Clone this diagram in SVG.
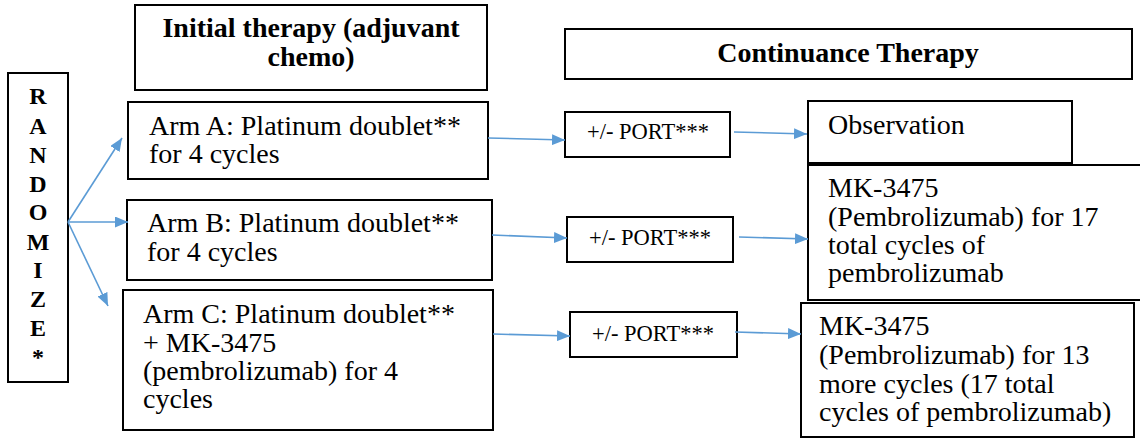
<svg xmlns="http://www.w3.org/2000/svg" width="1140" height="439" viewBox="0 0 1140 439">
<style>
.box{fill:#fff;stroke:#000;stroke-width:2}
.t{font-family:"Liberation Serif","Times New Roman",serif;font-size:28px;fill:#000}
.h{font-family:"Liberation Serif","Times New Roman",serif;font-size:28px;font-weight:bold;fill:#000;text-anchor:middle}
.r{font-family:"Liberation Serif","Times New Roman",serif;font-size:24px;font-weight:bold;fill:#000;text-anchor:middle}
.p{font-family:"Liberation Serif","Times New Roman",serif;font-size:22.5px;fill:#000;text-anchor:middle}
.c{fill:none;stroke:#5b9bd5;stroke-width:1.6;marker-end:url(#ah)}
</style>
<defs>
<marker id="ah" markerUnits="userSpaceOnUse" markerWidth="13" markerHeight="11" refX="13" refY="5.5" orient="auto">
<path d="M0,0 L13,5.5 L0,11 z" fill="#5b9bd5"/>
</marker>
</defs>
<rect width="1140" height="439" fill="#fff"/>
<g id="randomize">
<rect class="box" x="8" y="73" width="60" height="309"/>
<text class="r" x="38" y="104">R</text>
<text class="r" x="38" y="134">A</text>
<text class="r" x="38" y="163">N</text>
<text class="r" x="38" y="192">D</text>
<text class="r" x="38" y="220">O</text>
<text class="r" x="38" y="250">M</text>
<text class="r" x="38" y="278">I</text>
<text class="r" x="38" y="307">Z</text>
<text class="r" x="38" y="336">E</text>
<text class="r" x="38" y="365">*</text>
</g>
<g id="initial-header">
<rect class="box" x="135" y="5" width="352" height="85"/>
<text class="h" x="311" y="37">Initial therapy (adjuvant</text>
<text class="h" x="311" y="66">chemo)</text>
</g>
<g id="continuance-header">
<rect class="box" x="565" y="29" width="567" height="50"/>
<text class="h" x="848" y="62">Continuance Therapy</text>
</g>
<g id="arm-a">
<rect class="box" x="128" y="102" width="360" height="77"/>
<text class="t" x="149" y="135">Arm A: Platinum doublet**</text>
<text class="t" x="149" y="163">for 4 cycles</text>
</g>
<g id="arm-b">
<rect class="box" x="127" y="200" width="365" height="80"/>
<text class="t" x="147" y="232">Arm B: Platinum doublet**</text>
<text class="t" x="147" y="261">for 4 cycles</text>
</g>
<g id="arm-c">
<rect class="box" x="123" y="290" width="370" height="140"/>
<text class="t" x="143" y="323">Arm C: Platinum doublet**</text>
<text class="t" x="143" y="352">+ MK-3475</text>
<text class="t" x="143" y="380">(pembrolizumab) for 4</text>
<text class="t" x="143" y="408">cycles</text>
</g>
<g id="port-a">
<rect class="box" x="565" y="112" width="165" height="45"/>
<text class="p" x="648" y="139">+/- PORT***</text>
</g>
<g id="port-b">
<rect class="box" x="567" y="217" width="166" height="45"/>
<text class="p" x="650" y="245">+/- PORT***</text>
</g>
<g id="port-c">
<rect class="box" x="570" y="312" width="167" height="45"/>
<text class="p" x="653" y="341">+/- PORT***</text>
</g>
<g id="observation">
<rect class="box" x="808" y="101" width="264" height="62"/>
<text class="t" x="828" y="134">Observation</text>
</g>
<g id="mk-b">
<rect class="box" x="808" y="165" width="340" height="135"/>
<text class="t" x="828" y="197">MK-3475</text>
<text class="t" x="828" y="226">(Pembrolizumab) for 17</text>
<text class="t" x="828" y="254">total cycles of</text>
<text class="t" x="828" y="282">pembrolizumab</text>
</g>
<g id="mk-c">
<rect class="box" x="801" y="303" width="333" height="134"/>
<text class="t" x="819" y="335">MK-3475</text>
<text class="t" x="819" y="364">(Pembrolizumab) for 13</text>
<text class="t" x="819" y="393">more cycles (17 total</text>
<text class="t" x="819" y="421">cycles of pembrolizumab)</text>
</g>
<g id="connectors">
<path class="c" d="M68,222 L122,138"/>
<path class="c" d="M68,222 L128,222"/>
<path class="c" d="M68,222 L108,306"/>
<path class="c" d="M488,138 L565,140"/>
<path class="c" d="M734,132 L807,134"/>
<path class="c" d="M492,235 L567,238"/>
<path class="c" d="M739,237 L808,239"/>
<path class="c" d="M493,334 L570,336"/>
<path class="c" d="M735,332 L801,334"/>
</g>
</svg>
